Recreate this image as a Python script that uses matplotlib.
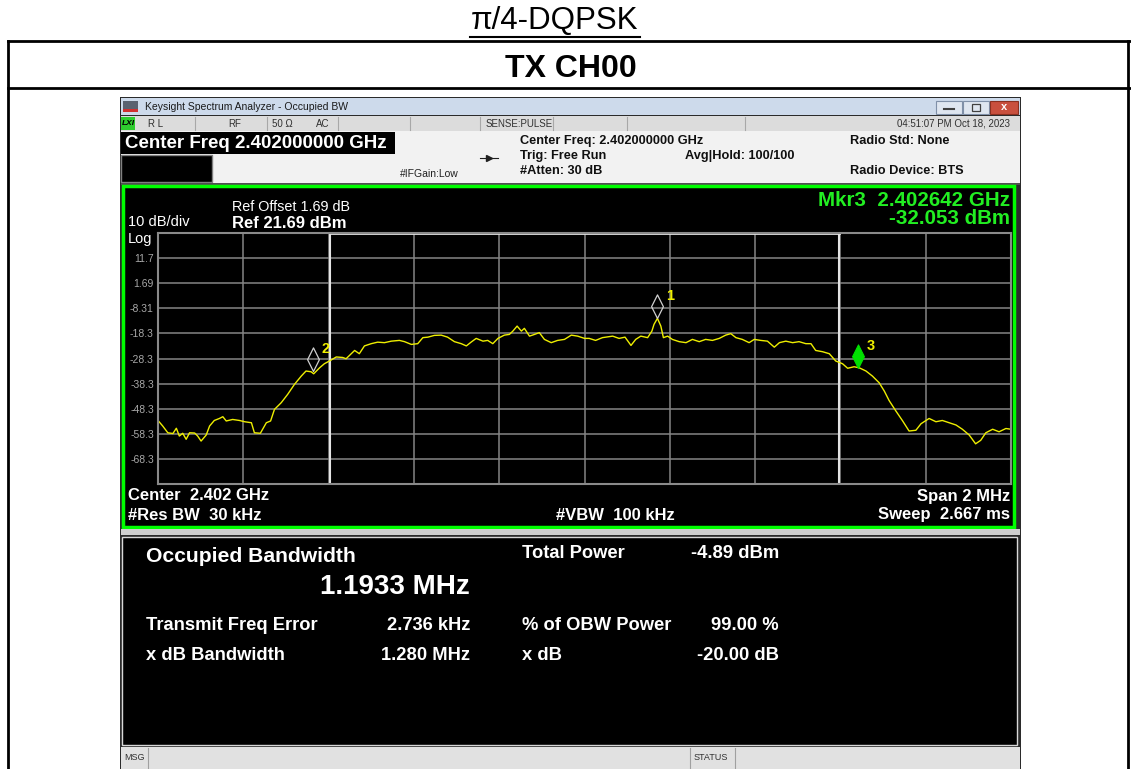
import matplotlib
matplotlib.use("Agg")
import matplotlib.pyplot as plt
from matplotlib.patches import Rectangle
from matplotlib.path import Path

plt.rcParams['font.family'] = ['Liberation Sans', 'DejaVu Sans']

W, H = 1131, 769

# analyzer settings
center_ghz = 2.402
span_mhz = 2.0
ref_level = 21.69
db_per_div = 10
obw_mhz = 1.1933

# trace: offset from centre (MHz), level (dBm)
trace_offset = [-1.000, -0.989, -0.977, -0.965, -0.957, -0.950, -0.942, -0.934, -0.926, -0.914,
                -0.907, -0.899, -0.887, -0.879, -0.868, -0.856, -0.848, -0.840, -0.825, -0.809,
                -0.797, -0.781, -0.774, -0.760, -0.746, -0.736, -0.727, -0.711, -0.696, -0.680,
                -0.664, -0.653, -0.641, -0.635, -0.621, -0.610, -0.598, -0.582, -0.567, -0.559,
                -0.539, -0.528, -0.516, -0.500, -0.485, -0.469, -0.453, -0.434, -0.422, -0.406,
                -0.391, -0.379, -0.367, -0.352, -0.336, -0.321, -0.305, -0.289, -0.277, -0.266,
                -0.254, -0.238, -0.227, -0.215, -0.203, -0.188, -0.176, -0.168, -0.158, -0.148,
                -0.141, -0.129, -0.117, -0.106, -0.094, -0.078, -0.063, -0.047, -0.031, -0.016,
                0.000,
                0.011, 0.026, 0.042, 0.066, 0.081, 0.095, 0.109, 0.120, 0.132, 0.148,
                0.158, 0.163, 0.171, 0.179, 0.185, 0.195, 0.206, 0.222, 0.238, 0.253,
                0.269, 0.284, 0.300, 0.316, 0.331, 0.343, 0.355, 0.370, 0.386, 0.398,
                0.413, 0.429, 0.445, 0.457, 0.472, 0.488, 0.503, 0.519, 0.531, 0.542,
                0.558, 0.574, 0.589, 0.605, 0.617, 0.632, 0.644, 0.660, 0.675, 0.691,
                0.703, 0.714, 0.730, 0.746, 0.761, 0.777, 0.789, 0.808, 0.824, 0.839,
                0.855, 0.871, 0.886, 0.902, 0.917, 0.929, 0.941, 0.957, 0.972, 0.988,
                1.000]
trace_level = [-53.0, -55.2, -57.9, -58.2, -56.1, -59.2, -58.1, -60.5, -57.9, -58.0,
               -59.2, -61.2, -58.8, -55.2, -53.0, -52.2, -51.5, -53.2, -52.6, -53.0,
               -53.5, -53.9, -57.9, -58.1, -53.9, -53.2, -48.6, -45.9, -42.6, -38.6,
               -35.3, -33.3, -33.6, -34.4, -32.0, -30.4, -29.3, -27.7, -27.9, -28.4,
               -25.1, -26.4, -23.3, -22.4, -21.8, -22.0, -21.4, -21.1, -21.6, -22.7,
               -22.4, -20.0, -19.8, -19.1, -19.0, -19.8, -21.6, -22.4, -23.3, -21.8,
               -20.3, -21.4, -21.1, -22.4, -20.3, -19.0, -18.7, -17.4, -15.4, -17.4,
               -16.3, -19.4, -18.7, -18.0, -20.7, -22.0, -21.1, -20.7, -19.0, -19.4,
               -20.3,
               -20.3, -21.1, -20.0, -19.4, -20.3, -19.8, -23.1, -20.7, -19.4, -20.0,
               -17.4, -14.7, -12.3, -15.4, -20.0, -19.4, -20.7, -21.6, -22.0, -20.7,
               -21.6, -20.7, -21.1, -20.3, -19.0, -18.4, -20.0, -20.7, -22.0, -20.7,
               -21.1, -21.4, -23.8, -22.0, -21.4, -22.0, -21.6, -22.4, -22.4, -25.1,
               -25.6, -26.4, -29.3, -30.4, -32.2, -31.6, -32.0, -33.3, -35.3, -38.0,
               -41.3, -45.0, -49.2, -53.2, -57.2, -56.9, -54.3, -52.2, -53.5, -53.0,
               -53.9, -54.8, -56.5, -58.8, -62.3, -60.9, -57.9, -56.5, -57.5, -56.2,
               -56.5]

marker_names = ["1", "2", "3"]
marker_offset = [0.171, -0.636, 0.642]
marker_level = [-12.2, -33.3, -32.053]

# result table
obw_label = "Occupied Bandwidth"
obw_value = "1.1933 MHz"
left_rows = [("Transmit Freq Error", "2.736 kHz"), ("x dB Bandwidth", "1.280 MHz")]
right_rows = [("Total Power", "-4.89 dBm"), ("% of OBW Power", "99.00 %"), ("x dB", "-20.00 dB")]

fig = plt.figure(figsize=(W / 100, H / 100), dpi=100)
fig.patch.set_facecolor("white")

# background axes in pixel coordinates
bg = fig.add_axes([0, 0, 1, 1])
bg.set_xlim(0, W)
bg.set_ylim(H, 0)
bg.axis("off")


def box(x, y, w, h, fc, ec="none", lw=0):
    bg.add_patch(Rectangle((x, y), w, h, facecolor=fc, edgecolor=ec, linewidth=lw))


# page header / table
bg.text(555, 21, "π/4-DQPSK", ha="center", va="center", fontsize=22.5)
bg.plot([470, 640], [37, 37], color="black", lw=1.5)
bg.plot([8, W], [41, 41], color="black", lw=2)
bg.plot([8, W], [88, 88], color="black", lw=2)
bg.plot([8, 8], [41, H], color="black", lw=2)
bg.plot([1128, 1128], [41, H], color="black", lw=2)
bg.text(571, 69, "TX CH00", ha="center", va="center", fontsize=23, fontweight="bold")

# analyzer window
box(120, 97, 901, 672, "#2b2b2b")
box(121, 98, 899, 17, "#cddaeb")
box(123, 101, 15, 11, "#5a6270")
box(123, 109, 15, 3, "#d03030")
bg.text(145, 106.5, "Keysight Spectrum Analyzer - Occupied BW", va="center", fontsize=7.5, color="#1a1a1a")
box(936, 101, 26, 13, "#dfe6f0", "#8090a8", 0.8)
box(963, 101, 26, 13, "#dfe6f0", "#8090a8", 0.8)
box(990, 101, 28, 13, "#c9503e", "#8a3020", 0.8)
bg.plot([944, 954], [109, 109], color="#404040", lw=1.5)
box(972, 104, 8, 7, "none", "#404040", 0.9)
bg.text(1004, 107.5, "x", ha="center", va="center", fontsize=8, fontweight="bold", color="white")

# status row
box(121, 116, 899, 15, "#dcdcdc")
for xd in [195, 267, 338, 410, 480, 553, 627, 745]:
    bg.plot([xd, xd], [117, 130], color="#a8a8a8", lw=0.8)
box(121, 117, 14, 13, "#2ecc2e")
bg.text(128, 123.5, "LXI", ha="center", va="center", fontsize=6, fontweight="bold", style="italic")
for xs, s in [(148, "R L"), (228, "RF"), (272, "50 Ω"), (316, "AC"), (486, "SENSE:PULSE")]:
    bg.text(xs, 124, s, va="center", fontsize=7, color="#303030")
bg.text(1010, 124, "04:51:07 PM Oct 18, 2023", ha="right", va="center", fontsize=7, color="#303030")

# info row
box(121, 131, 899, 53, "#f2f2f2")
box(121, 132, 274, 22, "black")
bg.text(125, 143, f"Center Freq {center_ghz:.9f} GHz", va="center", fontsize=13.5,
        fontweight="bold", color="white")
box(121, 155, 91, 27, "black", "#808080", 1)
bg.text(400, 174, "#IFGain:Low", va="center", fontsize=7.5, color="#202020")
bg.plot([480, 498], [158, 158], color="#202020", lw=0.8)
bg.plot([489], [158], marker=">", ms=4, color="#202020")
for xs, ys, s in [(520, 141, f"Center Freq: {center_ghz:.9f} GHz"), (520, 156, "Trig: Free Run"),
                  (520, 171, "#Atten: 30 dB"), (685, 156, "Avg|Hold: 100/100"),
                  (850, 141, "Radio Std: None"), (850, 171, "Radio Device: BTS")]:
    bg.text(xs, ys, s, va="center", fontsize=9.2, fontweight="bold", color="#101010")
box(121, 183, 899, 2, "#505050")

# graph panel
box(123, 186, 891, 341, "black", "#00ff00", 2.5)
box(121, 529, 899, 6, "#cfcfcf")
bg.text(128, 222, "10 dB/div", va="center", fontsize=10.5, color="white")
bg.text(128, 239, "Log", va="center", fontsize=10.5, color="white")
bg.text(232, 207, "Ref Offset 1.69 dB", va="center", fontsize=10.4, color="white")
bg.text(232, 223, f"Ref {ref_level} dBm", va="center", fontsize=12, fontweight="bold", color="white")
bg.text(1010, 200, f"Mkr3  {center_ghz + marker_offset[2] / 1000:.6f} GHz", ha="right", va="center",
        fontsize=14.8, fontweight="bold", color="#22ee22")
bg.text(1010, 218, f"{marker_level[2]:.3f} dBm", ha="right", va="center",
        fontsize=14.8, fontweight="bold", color="#22ee22")
bg.text(128, 496, f"Center  {center_ghz} GHz", va="center", fontsize=12, fontweight="bold", color="white")
bg.text(128, 515, "#Res BW  30 kHz", va="center", fontsize=12, fontweight="bold", color="white")
bg.text(615, 515, "#VBW  100 kHz", ha="center", va="center", fontsize=12, fontweight="bold", color="white")
bg.text(1010, 496, f"Span {span_mhz:g} MHz", ha="right", va="center", fontsize=12, fontweight="bold", color="white")
bg.text(1010, 515, "Sweep  2.667 ms", ha="right", va="center", fontsize=12, fontweight="bold", color="white")

# result panel
box(122, 537, 895, 208, "black", "#d8d8d8", 1)
bg.text(146, 557, obw_label, va="center", fontsize=15.2, fontweight="bold", color="white")
bg.text(470, 587, obw_value, ha="right", va="center", fontsize=20, fontweight="bold", color="white")
for (lab, val), yy in zip(left_rows, [625, 656]):
    bg.text(146, yy, lab, va="center", fontsize=13.2, fontweight="bold", color="white")
    bg.text(470, yy, val, ha="right", va="center", fontsize=13.2, fontweight="bold", color="white")
for (lab, val), yy in zip(right_rows, [554, 625, 656]):
    bg.text(522, yy, lab, va="center", fontsize=13.2, fontweight="bold", color="white")
    bg.text(779, yy, val, ha="right", va="center", fontsize=13.2, fontweight="bold", color="white")

# bottom status bar
box(121, 747, 899, 22, "#e1e1e1")
for xd in [148, 690, 735]:
    bg.plot([xd, xd], [748, H], color="#a0a0a0", lw=0.8)
bg.text(124, 758, "MSG", va="center", fontsize=6.5, color="#303030")
bg.text(694, 758, "STATUS", va="center", fontsize=6.5, color="#303030")

# spectrum axes
x0, x1, y0, y1 = 158, 1011, 233, 484
ax = fig.add_axes([x0 / W, 1 - y1 / H, (x1 - x0) / W, (y1 - y0) / H])
ax.set_facecolor("black")
half = span_mhz / 2
ax.set_xlim(-half, half)
bottom = ref_level - 10 * db_per_div
ax.set_ylim(bottom, ref_level)
ax.set_xticks([-half + i * span_mhz / 10 for i in range(11)])
ax.set_xticklabels([])
yt = [ref_level - i * db_per_div for i in range(11)]
ylab = [""] + [f"{v:.3g}" for v in yt[1:-1]] + [""]
ax.set_yticks(yt, ylab)
ax.tick_params(length=0, labelsize=7.5, labelcolor="#a8a8a8", pad=3)
ax.grid(True, color="#858585", lw=1.1)
ax.set_axisbelow(True)
for sp in ax.spines.values():
    sp.set_color("#8a8a8a")
    sp.set_linewidth(1.5)

# OBW bracket
for xb in [-obw_mhz / 2, obw_mhz / 2]:
    ax.axvline(xb, color="#e4e4e4", lw=1.5)
ax.plot([-obw_mhz / 2, obw_mhz / 2], [ref_level, ref_level], color="#e8e8e8", lw=2, clip_on=False)

ax.plot(trace_offset, trace_level, color="#eeee00", lw=1.0)

diamond = Path([(0, 0), (0.5, 1), (0, 2), (-0.5, 1), (0, 0)],
               [Path.MOVETO, Path.LINETO, Path.LINETO, Path.LINETO, Path.CLOSEPOLY])
for i, (nm, fo, lv) in enumerate(zip(marker_names, marker_offset, marker_level)):
    if i == 2:
        ax.plot([fo], [lv], marker=diamond, ms=34, mfc="#00e000", mec="#00e000", mew=0.8)
    else:
        ax.plot([fo], [lv], marker=diamond, ms=34, mfc="none", mec="#d0d0d0", mew=0.9)
    ax.annotate(nm, (fo, lv), xytext=(6, 16), textcoords="offset points", ha="left", va="center",
                fontsize=10.5, fontweight="bold", color="#f0f000")

fig.savefig("out.png", dpi=100, facecolor="white")
